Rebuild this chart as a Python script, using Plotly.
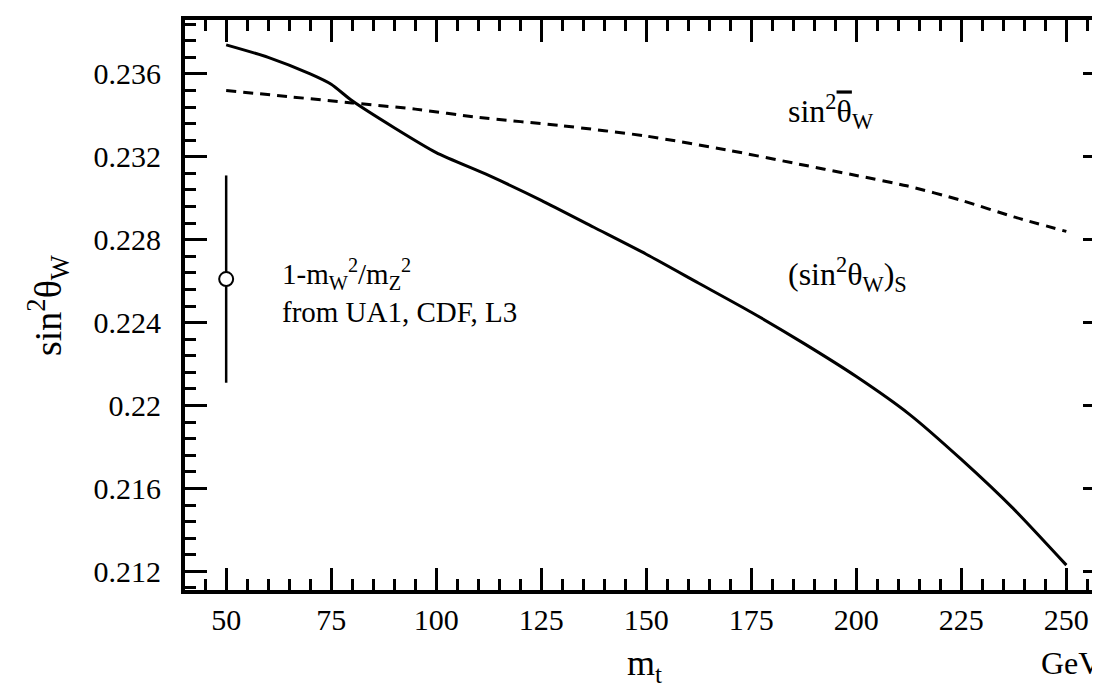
import plotly.graph_objects as go

# (sin^2 theta_W)_s  -- solid curve
solid_mt = [50, 60, 70, 75, 80, 90, 100, 112.5, 125, 137.5, 150, 162.5, 175, 187.5, 200, 212.5, 225, 237.5, 250]
solid_s2w = [0.2374, 0.2368, 0.2360, 0.2355, 0.2347, 0.2334, 0.2322, 0.2311, 0.2299, 0.2286, 0.2273,
             0.2259, 0.2245, 0.2230, 0.2214, 0.2196, 0.2174, 0.2150, 0.2123]

# effective sin^2 theta_W bar -- dashed curve
dashed_mt = [50, 65, 80, 95, 110, 130, 150, 170, 185, 200, 212, 225, 237.5, 250]
dashed_s2w = [0.2352, 0.2349, 0.2346, 0.2343, 0.2339, 0.2335, 0.2330, 0.2323, 0.2317, 0.2311,
              0.2306, 0.2299, 0.2291, 0.2284]

# measured point 1 - mW^2/mZ^2
meas_mt = [50]
meas_val = [0.2261]
meas_err = [0.0050]

x_ticks = [50, 75, 100, 125, 150, 175, 200, 225, 250]
y_ticks = [0.212, 0.216, 0.220, 0.224, 0.228, 0.232, 0.236]
y_ticktext = ["0.212", "0.216", "0.22", "0.224", "0.228", "0.232", "0.236"]

X_RANGE = [40.2, 259.2]
Y_RANGE = [0.2111, 0.2386]

FONT = "Liberation Serif"

fig = go.Figure()
fig.add_trace(go.Scatter(x=solid_mt, y=solid_s2w, mode="lines",
                         line=dict(color="black", width=3, shape="spline", smoothing=0.6),
                         showlegend=False, hoverinfo="skip"))
fig.add_trace(go.Scatter(x=dashed_mt, y=dashed_s2w, mode="lines",
                         line=dict(color="black", width=3, dash="10px,7px", shape="spline", smoothing=0.6),
                         showlegend=False, hoverinfo="skip"))
fig.add_trace(go.Scatter(x=meas_mt, y=meas_val, mode="markers",
                         error_y=dict(type="data", array=meas_err, color="black", thickness=2.5, width=0),
                         marker=dict(symbol="circle", size=14, color="white",
                                     line=dict(color="black", width=2)),
                         showlegend=False, hoverinfo="skip"))
# invisible copy on the mirrored tick axes (top / right) so they are drawn
fig.add_trace(go.Scatter(x=meas_mt, y=meas_val, xaxis="x2", yaxis="y2", mode="markers",
                         marker=dict(size=1, opacity=0), showlegend=False, hoverinfo="skip"))

tick_common = dict(ticks="inside", ticklen=22, tickwidth=3, tickcolor="black",
                   showgrid=False, zeroline=False,
                   tickfont=dict(family=FONT, size=30, color="black"))
x_minor = dict(ticks="inside", ticklen=11, tickwidth=3, tickcolor="black",
               tickmode="linear", tick0=50, dtick=5, showgrid=False)
y_minor = dict(ticks="inside", ticklen=11, tickwidth=3, tickcolor="black",
               tickmode="linear", tick0=0.212, dtick=0.0008, showgrid=False)

fig.update_layout(
    xaxis=dict(range=X_RANGE, tickvals=x_ticks, ticktext=[str(v) for v in x_ticks],
               minor=x_minor, ticklabelstandoff=0,
               showline=True, linecolor="black", linewidth=4, mirror="allticks", **tick_common),
    yaxis=dict(range=Y_RANGE, tickvals=y_ticks, ticktext=y_ticktext,
               minor=y_minor, ticklabelstandoff=14,
               showline=True, linecolor="black", linewidth=4, mirror="allticks", **tick_common),
    xaxis2=dict(range=X_RANGE, overlaying="x", side="top", anchor="y", tickvals=x_ticks,
                showticklabels=False, minor=x_minor, showline=False, **tick_common),
    yaxis2=dict(range=Y_RANGE, overlaying="y", side="right", anchor="x", tickvals=y_ticks,
                showticklabels=False, minor=y_minor, showline=False, **tick_common),
)

L, R, T, B = 177, 3, 12, 106
W, H = 1100, 688
pw, ph = W - L - R, H - T - B

def px(xp):
    return (xp - L) / pw

def py(yp):
    return (H - B - yp) / ph

ann = []
ann.append(dict(text="sin<sup>2</sup>θ<sub>W</sub>", x=px(40), y=0.5, xref="paper", yref="paper",
                textangle=-90, showarrow=False, xanchor="center", yanchor="middle",
                font=dict(family=FONT, size=38, color="black")))
ann.append(dict(text="m<sub>t</sub>", x=px(636), y=py(682), xref="paper", yref="paper",
                showarrow=False, xanchor="center", yanchor="bottom",
                font=dict(family=FONT, size=36, color="black")))
ann.append(dict(text="GeV", x=px(1095), y=py(655), xref="paper", yref="paper",
                showarrow=False, xanchor="right", yanchor="middle",
                font=dict(family=FONT, size=32, color="black")))
ann.append(dict(text="sin<sup>2</sup><span style=\"text-decoration:overline\">θ</span><sub>W</sub>",
                x=px(778), y=py(103), xref="paper", yref="paper",
                showarrow=False, xanchor="left", yanchor="middle",
                font=dict(family=FONT, size=32, color="black")))
ann.append(dict(text="(sin<sup>2</sup>θ<sub>W</sub>)<sub>S</sub>", x=px(778), y=py(266), xref="paper", yref="paper",
                showarrow=False, xanchor="left", yanchor="middle",
                font=dict(family=FONT, size=32, color="black")))
ann.append(dict(text="1-m<sub>W</sub><sup>2</sup>/m<sub>Z</sub><sup>2</sup><br>from UA1, CDF, L3",
                x=px(272), y=py(283), xref="paper", yref="paper",
                showarrow=False, xanchor="left", yanchor="middle", align="left",
                font=dict(family=FONT, size=29, color="black")))

fig.update_layout(width=W, height=H, margin=dict(l=L, r=R, t=T, b=B, autoexpand=False),
                  paper_bgcolor="white", plot_bgcolor="white", annotations=ann)

fig.write_html("out.html")
